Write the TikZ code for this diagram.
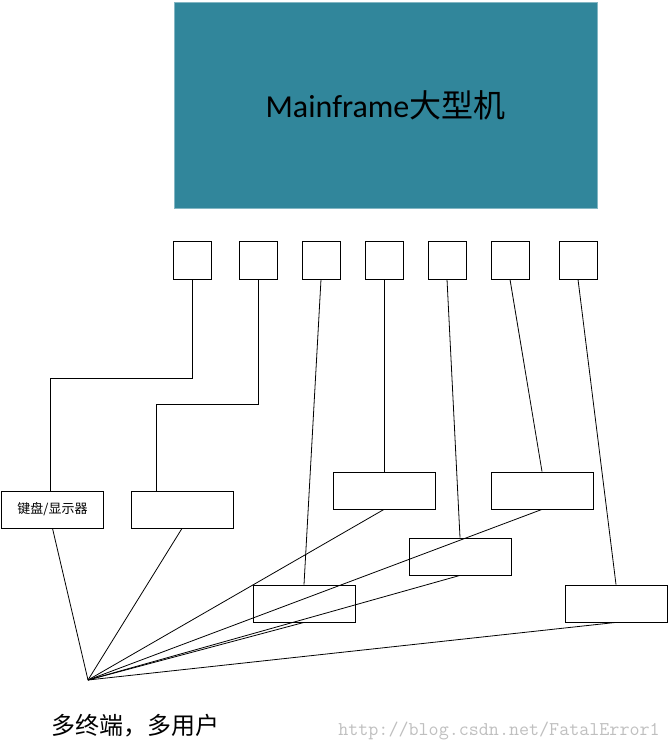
\documentclass[tikz,border=0pt]{standalone}
\usepackage{fontspec}
\setmainfont{Carlito}
\newfontfamily\cjk{Noto Sans CJK SC}
\usetikzlibrary{positioning}
\definecolor{mfteal}{HTML}{31869B}
\tikzset{
  port/.style={draw, line width=0.8pt, minimum width=38pt, minimum height=38pt, inner sep=0pt},
  term/.style={draw, line width=0.8pt, minimum width=102pt, minimum height=37pt, inner sep=0pt, font=\cjk\fontsize{13}{15}\selectfont},
  wire/.style={draw, line width=0.8pt}
}
\begin{document}
\begin{tikzpicture}[x=1pt,y=-1pt]
  \useasboundingbox (0,0) rectangle (668,751);
  % mainframe
  \node[fill=mfteal, draw=mfteal!60, minimum width=423pt, minimum height=206pt, inner sep=0pt,
        font=\fontsize{32}{36}\selectfont] (mf) at (385.5,105) {Mainframe{\cjk 大型机}};

  % ports
  \foreach \n/\x in {1/192,2/258,3/321,4/384,5/447,6/510,7/578}
    \node[port] (p\n) at (\x,260) {};

  % terminals
  \node[term] (t1) at (52.5,509.5) {键盘/显示器};
  \node[term] (t2) at (182,509.5) {};
  \node[term] (t3) at (384,490.5) {};
  \node[term] (t4) at (542,490.5) {};
  \node[term] (t5) at (460,556.5) {};
  \node[term] (t6) at (304,603.5) {};
  \node[term] (t7) at (616,603.5) {};

  \coordinate (hub) at (88,680);

  % ports to terminals
  \draw[wire] (p1.south) |- (50,378) -- (50,378 |- t1.north);
  \draw[wire] (p2.south) |- (156,404) -- (156,404 |- t2.north);
  \draw[wire] (p3.south) -- (t6.north);
  \draw[wire] (p4.south) -- (t3.north);
  \draw[wire] (p5.south) -- (t5.north);
  \draw[wire] (p6.south) -- (t4.north);
  \draw[wire] (p7.south) -- (t7.north);

  % terminals to users
  \foreach \t in {t1,t2,t3,t4,t5,t6,t7}
    \draw[wire] (hub) -- (\t.south);

  \node[font=\cjk\fontsize{24}{28}\selectfont] (cap) at (135,726) {多终端，多用户};
  \node[font=\ttfamily\fontsize{19.5}{22}\selectfont, text=black!25] (wm) at (499,731) {http://blog.csdn.net/FatalError1};
\end{tikzpicture}
\end{document}
